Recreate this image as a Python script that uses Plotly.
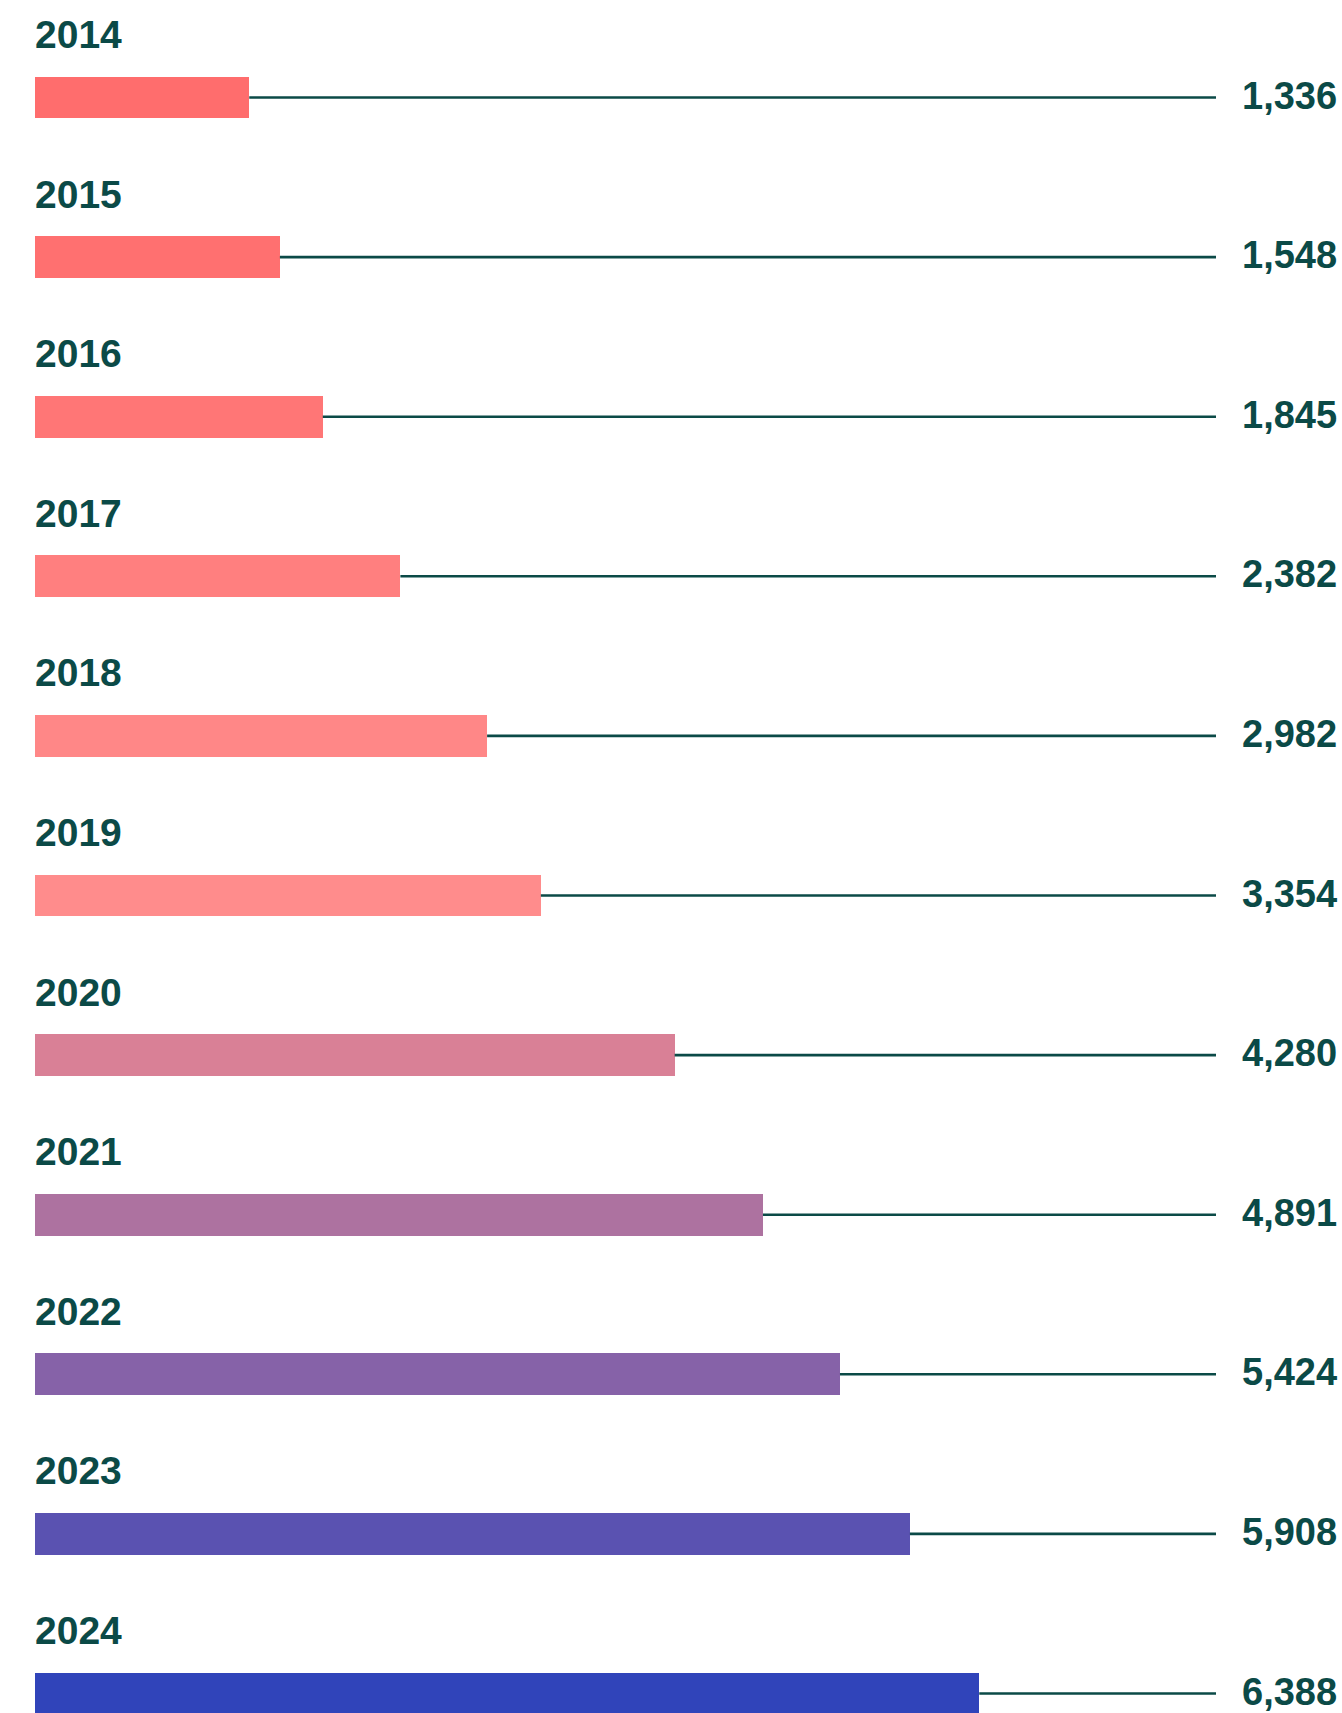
import plotly.graph_objects as go

years = ["2014", "2015", "2016", "2017", "2018", "2019", "2020", "2021", "2022", "2023", "2024"]
values = [1336, 1548, 1845, 2382, 2982, 3354, 4280, 4891, 5424, 5908, 6388]
value_labels = ["1,336", "1,548", "1,845", "2,382", "2,982", "3,354", "4,280", "4,891", "5,424", "5,908", "6,388"]
colors = ["#FF6D6D", "#FF7070", "#FF7676", "#FF7F7F", "#FF8787", "#FF8C8C",
          "#D98096", "#AD72A0", "#8662A8", "#5A52B1", "#3044BA"]

W, H = 1342, 1713
TEXT = "#0B4A47"
FONT = "Liberation Sans"

# layout constants (pixels)
bar_left_px = 35
px_per_unit = 0.1445
bar_offset_px = 21.2          # bars start a little before the zero point
row_px = 159.6
first_center_px = 97.5
bar_px = 41.7
line_end_px = 1216

zero_px = bar_left_px + bar_offset_px
x_min = -zero_px / px_per_unit
x_max = (W - zero_px) / px_per_unit
bar_base = -bar_offset_px / px_per_unit
line_end = (line_end_px - zero_px) / px_per_unit
y_top = -first_center_px / row_px
y_bottom = (H - first_center_px) / row_px

idx = list(range(len(years)))

fig = go.Figure()

# leader lines
lx, ly = [], []
for i, v in zip(idx, values):
    lx += [v, line_end, None]
    ly += [i, i, None]
fig.add_trace(go.Scatter(x=lx, y=ly, mode="lines",
                         line=dict(color=TEXT, width=2.6),
                         hoverinfo="skip", showlegend=False))

fig.add_trace(go.Bar(x=[v - bar_base for v in values], y=idx, base=bar_base,
                     orientation="h",
                     marker=dict(color=colors, line=dict(width=0)),
                     width=bar_px / row_px, showlegend=False,
                     customdata=value_labels, hovertext=years,
                     hovertemplate="%{hovertext}: %{customdata}<extra></extra>"))

annotations = []
for i, (yr, lab) in enumerate(zip(years, value_labels)):
    annotations.append(dict(x=bar_left_px / W, y=i, xref="paper", yref="y", text=f"<b>{yr}</b>",
                            showarrow=False, xanchor="left", yanchor="middle",
                            xshift=-2, yshift=63,
                            font=dict(family=FONT, size=39, color=TEXT)))
    annotations.append(dict(x=(W - 3) / W, y=i, xref="paper", yref="y", text=f"<b>{lab}</b>",
                            showarrow=False, xanchor="right", yanchor="middle",
                            yshift=2, font=dict(family=FONT, size=38, color=TEXT)))

fig.update_layout(
    width=W, height=H,
    margin=dict(l=0, r=0, t=0, b=0),
    paper_bgcolor="white", plot_bgcolor="white",
    xaxis=dict(range=[x_min, x_max], visible=False, fixedrange=True),
    yaxis=dict(range=[y_bottom, y_top], visible=False, fixedrange=True),
    annotations=annotations,
    bargap=0,
)

fig.write_html(
    "out.html",
    config={"displayModeBar": False},
    post_script="document.body.style.margin='0';document.body.style.overflow='hidden';",
)
